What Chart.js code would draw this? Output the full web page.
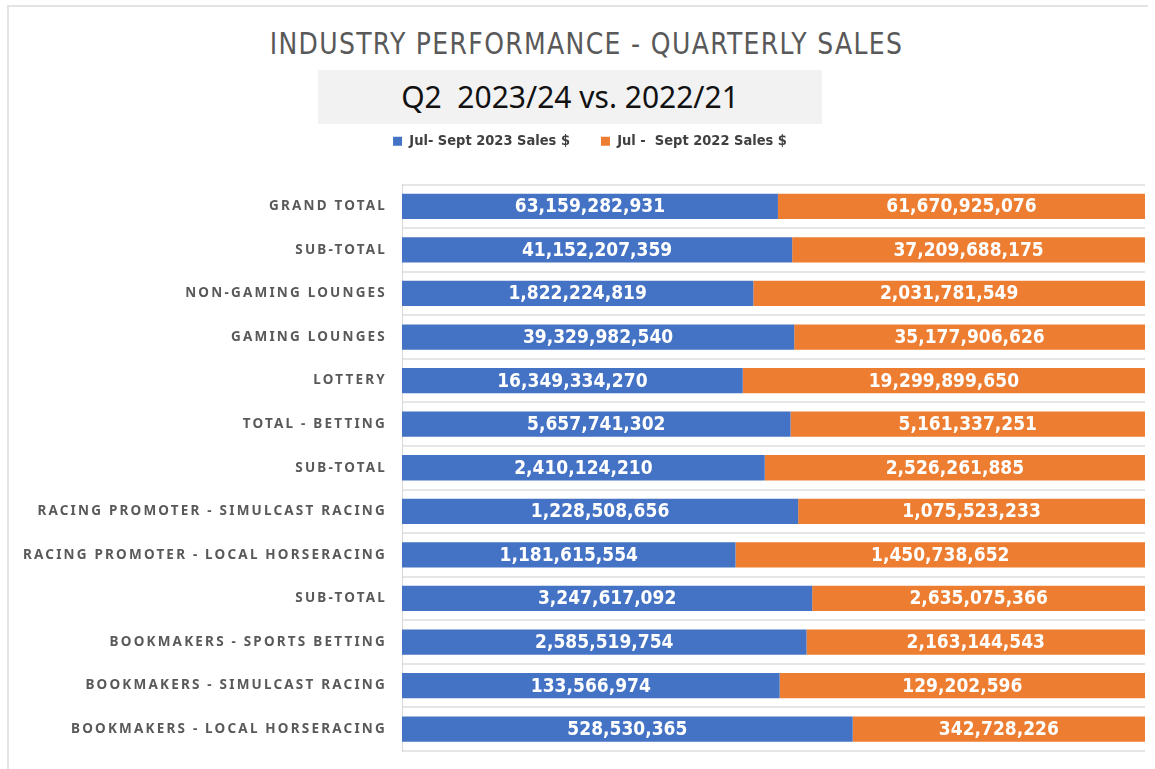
<!DOCTYPE html>
<html>
<head>
<meta charset="utf-8">
<script src="https://cdn.jsdelivr.net/npm/chart.js@4"></script>
<style>
  body { margin: 0; background: #fff; }
  #wrap { position: relative; width: 1155px; height: 769px; overflow: hidden; }
  #frame { position: absolute; left: 7px; top: 5px; width: 1139px; height: 770px;
    border-top: 2px solid #e3e3e3; border-left: 2px solid #e3e3e3; }
  #title { position: absolute; left: 9px; top: 28px; width: 1155px; text-align: center;
    font: 31px "DejaVu Sans Condensed", sans-serif; transform: scaleX(0.9);
    letter-spacing: 1.5px; color: #595959; line-height: 1; }
  #sub { position: absolute; left: 318px; top: 70px; width: 504px; height: 54px;
    background: #f2f2f2; text-align: center; white-space: pre;
    font: 30px "Noto Sans", sans-serif; line-height: 54px; color: #111; }
  canvas { position: absolute; left: 0; top: 0; }
</style>
</head>
<body>
<div id="wrap">
  <div id="frame"></div>
  <div id="title">INDUSTRY PERFORMANCE - QUARTERLY SALES</div>
  <div id="sub">Q2  2023/24 vs. 2022/21</div>
  <canvas id="chart" width="1155" height="769"></canvas>
</div>
<script>
const categories = [
  "GRAND TOTAL",
  "SUB-TOTAL",
  "NON-GAMING LOUNGES",
  "GAMING LOUNGES",
  "LOTTERY",
  "TOTAL - BETTING",
  "SUB-TOTAL",
  "RACING PROMOTER - SIMULCAST RACING",
  "RACING PROMOTER - LOCAL HORSERACING",
  "SUB-TOTAL",
  "BOOKMAKERS - SPORTS BETTING",
  "BOOKMAKERS - SIMULCAST RACING",
  "BOOKMAKERS - LOCAL HORSERACING"
]
const sales2023 = [
  63159282931, 41152207359, 1822224819, 39329982540, 16349334270, 5657741302,
  2410124210, 1228508656, 1181615554, 3247617092, 2585519754, 133566974, 528530365
]
const sales2022 = [
  61670925076, 37209688175, 2031781549, 35177906626, 19299899650, 5161337251,
  2526261885, 1075523233, 1450738652, 2635075366, 2163144543, 129202596, 342728226
]
const seriesNames = ["Jul- Sept 2023 Sales $", "Jul -  Sept 2022 Sales $"]

// 100% stacked: share of each row
const share = (a, b) => a.map((v, i) => (v / (v + b[i])) * 100)

const fmt = new Intl.NumberFormat("en-US")

const valueLabels = {
  id: "valueLabels",
  afterDatasetsDraw(chart) {
    const ctx = chart.ctx
    ctx.save()
    ctx.fillStyle = "#ffffff"
    ctx.font = "bold 19px 'DejaVu Sans Condensed', 'DejaVu Sans', sans-serif"
    ctx.textAlign = "center"
    ctx.textBaseline = "middle"
    chart.data.datasets.forEach((ds, di) => {
      const meta = chart.getDatasetMeta(di)
      meta.data.forEach((bar, i) => {
        const x = (bar.x + bar.base) / 2
        ctx.fillText(fmt.format(ds.raw[i]), x, bar.y + 1)
      })
    })
    ctx.restore()
    // category labels (drawn after datasets) are letter-spaced
    ctx.letterSpacing = "2.2px"
  },
  afterDraw(chart) {
    chart.ctx.letterSpacing = "0px"
  }
}

new Chart(document.getElementById("chart"), {
  type: "bar",
  data: {
    labels: categories,
    datasets: [
      { label: seriesNames[0], data: share(sales2023, sales2022), raw: sales2023, backgroundColor: "#4472c4" },
      { label: seriesNames[1], data: share(sales2022, sales2023), raw: sales2022, backgroundColor: "#ed7d31" }
    ]
  },
  options: {
    indexAxis: "y",
    responsive: false,
    animation: false,
    devicePixelRatio: 1,
    categoryPercentage: 0.58,
    barPercentage: 1,
    layout: { padding: { top: 103, left: 35, right: 10, bottom: 18 } },
    plugins: {
      legend: {
        position: "top",
        labels: {
          boxWidth: 9,
          boxHeight: 9,
          padding: 31,
          color: "#404040",
          font: { family: "'DejaVu Sans Condensed', 'DejaVu Sans', sans-serif", size: 14.5, weight: "bold" }
        }
      },
      tooltip: { enabled: false }
    },
    scales: {
      x: {
        stacked: true,
        position: "top",
        min: 0,
        max: 100,
        grid: { display: false },
        border: { display: false },
        ticks: { display: false },
        afterFit: (s) => { s.height = 26 }
      },
      y: {
        stacked: true,
        grid: { color: "#e6e6e6", lineWidth: 2, drawTicks: false },
        border: { color: "#d9d9d9", width: 1 },
        ticks: {
          z: 1,
          padding: 15,
          color: "#595959",
          font: { family: "'Noto Sans', sans-serif", size: 13.5, weight: "bold" }
        },
        afterFit: (s) => {
          s.width = 367
          s.paddingTop = 0
          s.paddingBottom = 0
          // long labels run past the padded area on the left
          s._computeLabelArea = () => null
        }
      }
    }
  },
  plugins: [valueLabels]
})
</script>
</body>
</html>
